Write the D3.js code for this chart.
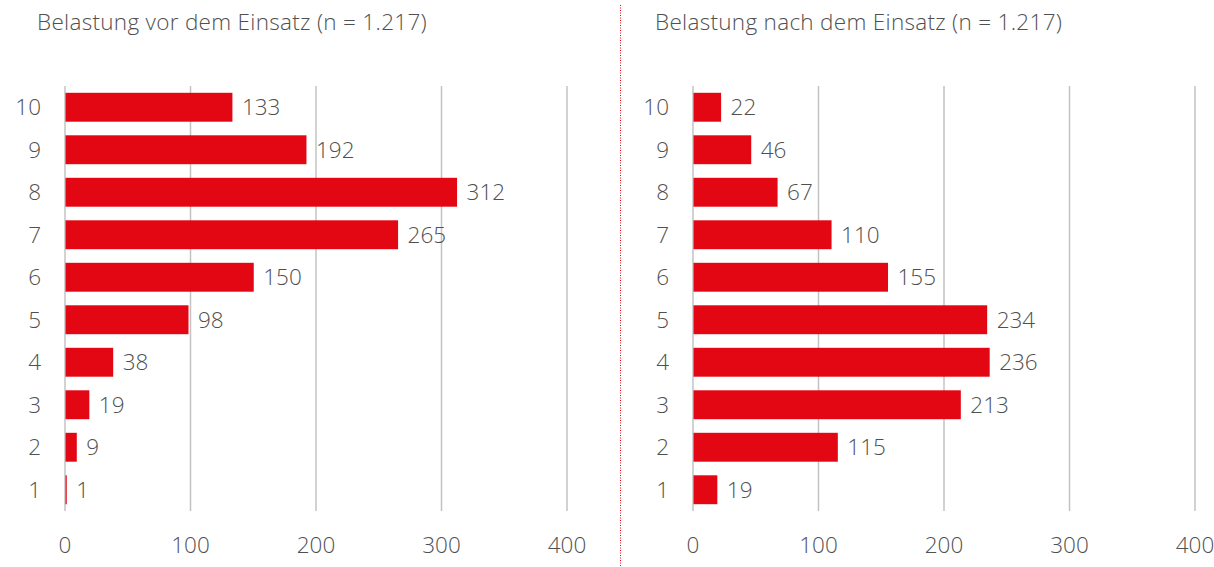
<!DOCTYPE html>
<html>
<head>
<meta charset="utf-8">
<script src="https://cdn.jsdelivr.net/npm/d3@7"></script>
<style>
  body { margin: 0; background: #fff; }
  text { font-family: "Open Sans", Lato, sans-serif; font-weight: 300; fill: #505050; }
</style>
</head>
<body>
<div id="chart"></div>
<script>
(function() {
    let w = 1214, h = 567

    // stress levels, top to bottom
    let levels = ["10", "9", "8", "7", "6", "5", "4", "3", "2", "1"]
    let vorValues = [133, 192, 312, 265, 150, 98, 38, 19, 9, 1]
    let nachValues = [22, 46, 67, 110, 155, 234, 236, 213, 115, 19]
    let ticks = [0, 100, 200, 300, 400]

    let titles = ["Belastung vor dem Einsatz (n = 1.217)", "Belastung nach dem Einsatz (n = 1.217)"]

    let red = "#e30613"
    let fs = 22.5

    let svg = d3.select("#chart")
                .append("svg")
                .attr("width", w)
                .attr("height", h)

    // dotted divider between both panels
    svg.append("line")
       .attr("x1", 620.5).attr("x2", 620.5)
       .attr("y1", 5).attr("y2", h)
       .attr("stroke", red)
       .attr("stroke-width", 1)
       .attr("stroke-dasharray", "1,1.5")

    let panels = [
        {title: titles[0], values: vorValues, x0: 65, titleX: 37},
        {title: titles[1], values: nachValues, x0: 693, titleX: 655}
    ]

    panels.forEach(p => {
        let x = d3.scaleLinear().domain([0, 400]).range([p.x0, p.x0 + 502])
        let y = d3.scaleBand().domain(levels).range([86, 511]).paddingInner(0.32).paddingOuter(0.16)

        let g = svg.append("g")

        g.append("text")
         .text(p.title)
         .attr("x", p.titleX)
         .attr("y", 30)
         .attr("font-size", fs)
         .attr("letter-spacing", 0.3)

        // gridlines
        g.selectAll("line.grid")
         .data(ticks)
         .enter()
         .append("line")
         .attr("class", "grid")
         .attr("x1", d => x(d)).attr("x2", d => x(d))
         .attr("y1", 86).attr("y2", 511)
         .attr("stroke", "#c3c3c3")
         .attr("stroke-width", 1.5)

        // x tick labels
        g.selectAll("text.tick")
         .data(ticks)
         .enter()
         .append("text")
         .attr("class", "tick")
         .text(d => d)
         .attr("x", d => x(d))
         .attr("y", 553)
         .attr("text-anchor", "middle")
         .attr("font-size", fs)

        // bars
        let data = levels.map((l, i) => ({level: l, value: p.values[i]}))

        g.selectAll("rect")
         .data(data)
         .enter()
         .append("rect")
         .attr("x", x(0) + 0.5)
         .attr("y", d => y(d.level))
         .attr("width", d => x(d.value) - x(0))
         .attr("height", y.bandwidth())
         .attr("fill", red)

        g.selectAll("text.val")
         .data(data)
         .enter()
         .append("text")
         .attr("class", "val")
         .text(d => d.value)
         .attr("x", d => x(d.value) + 10)
         .attr("y", d => y(d.level) + y.bandwidth() / 2)
         .attr("dy", "0.35em")
         .attr("font-size", fs)

        g.selectAll("text.cat")
         .data(levels)
         .enter()
         .append("text")
         .attr("class", "cat")
         .text(d => d)
         .attr("x", p.x0 - 24)
         .attr("y", d => y(d) + y.bandwidth() / 2)
         .attr("dy", "0.35em")
         .attr("text-anchor", "end")
         .attr("font-size", fs)
    })
})()
</script>
</body>
</html>
